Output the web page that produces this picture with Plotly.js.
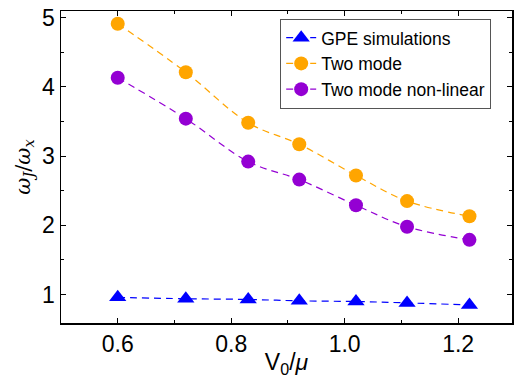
<!DOCTYPE html>
<html><head><meta charset="utf-8">
<script src="https://cdn.plot.ly/plotly-3.0.1.min.js"></script>
<style>body{margin:0;padding:0;background:#fff}#c{width:515px;height:378px}</style>
</head><body><div id="c"></div>
<script>
var xVals = [0.6, 0.72, 0.83, 0.92, 1.02, 1.11, 1.22];
var gpe = [0.96, 0.94, 0.93, 0.91, 0.90, 0.88, 0.85];
var twoMode = [4.91, 4.21, 3.48, 3.17, 2.72, 2.35, 2.13];
var twoModeNL = [4.13, 3.54, 2.92, 2.66, 2.29, 1.98, 1.79];
var names = ['GPE simulations', 'Two mode', 'Two mode non-linear'];
var xTicks = [0.6, 0.8, 1.0, 1.2];
var xTickText = ['0.6', '0.8', '1.0', '1.2'];
var yTicks = [1, 2, 3, 4, 5];

function tr(y, name, color, sym) {
  return {x: xVals, y: y, name: name, type: 'scatter', mode: 'lines+markers',
    line: {color: color, width: 1.2, dash: '7px,5px', shape: 'spline'},
    marker: {color: color, size: sym === 'triangle-up' ? 15 : 14, symbol: sym}};
}
var data = [tr(gpe, names[0], '#0000FF', 'triangle-up'),
            tr(twoMode, names[1], '#FFA500', 'circle'),
            tr(twoModeNL, names[2], '#9400D3', 'circle')];
var fam = 'Liberation Sans, Arial, sans-serif';
var axisCommon = {showgrid: false, zeroline: false, showline: true, linecolor: '#000', linewidth: 1.5,
  mirror: 'allticks', ticks: 'inside', ticklen: 5, tickwidth: 1, tickcolor: '#000',
  tickfont: {family: fam, size: 23, color: '#000'}};
var layout = {
  width: 515, height: 378,
  margin: {l: 61, r: 3, t: 11, b: 55},
  paper_bgcolor: '#fff', plot_bgcolor: '#fff',
  showlegend: true,
  legend: {x: 0.486, y: 0.975, xanchor: 'left', yanchor: 'top', bgcolor: '#fff',
    bordercolor: '#555', borderwidth: 1, font: {family: fam, size: 17.5, color: '#000'},
    tracegroupgap: 0, itemwidth: 30},
  xaxis: Object.assign({}, axisCommon, {range: [0.5, 1.295], tickvals: xTicks,
    ticktext: xTickText, minor: {tickvals: [0.7, 0.9, 1.1], ticks: 'inside', ticklen: 3, tickcolor: '#000'},
    title: {text: 'V<sub>0</sub>/<i>μ</i>', font: {family: fam, size: 23, color: '#000'}, standoff: 4}}),
  yaxis: Object.assign({}, axisCommon, {range: [0.59, 5.094], tickvals: yTicks,
    minor: {tickvals: [1.5, 2.5, 3.5, 4.5], ticks: 'inside', ticklen: 3, tickcolor: '#000'},
    title: {text: '<i>ω<sub>J</sub></i>/<i>ω<sub>x</sub></i>', font: {family: 'DejaVu Serif, serif', size: 21, color: '#000'}, standoff: 6}})
};
Plotly.newPlot('c', data, layout, {displayModeBar: false, staticPlot: true});
</script></body></html>
